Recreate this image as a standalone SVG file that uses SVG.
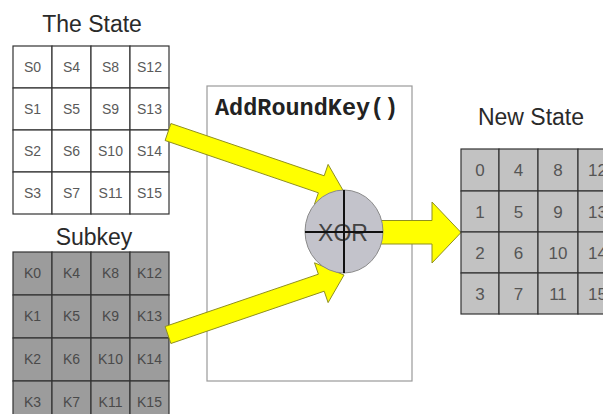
<svg xmlns="http://www.w3.org/2000/svg" width="603" height="414" viewBox="0 0 603 414">
<style>
.title{font-family:"Liberation Sans",Arial,sans-serif;font-size:23px;fill:#2a2a2a;text-anchor:middle}
.cell{stroke:#333;stroke-width:1.2}
.st{fill:#ffffff}
.sk{fill:#9c9c9c}
.ns{fill:#c2c2c2}
.ct{font-family:"Liberation Sans",Arial,sans-serif;font-size:14px;fill:#5a5a5a;text-anchor:middle}
.kt{font-family:"Liberation Sans",Arial,sans-serif;font-size:14px;fill:#4a4a4a;text-anchor:middle}
.nt{font-family:"Liberation Sans",Arial,sans-serif;font-size:17px;fill:#555;text-anchor:middle}
.arrow{fill:#ffff00;stroke:#8f8f20;stroke-width:1}
</style>
<rect width="603" height="414" fill="#ffffff"/>

<g id="state">
<text class="title" x="92" y="32">The State</text>
<g class="cell st">
<rect x="13" y="46" width="39" height="42"/><rect x="52" y="46" width="39" height="42"/><rect x="91" y="46" width="39" height="42"/><rect x="130" y="46" width="39" height="42"/>
<rect x="13" y="88" width="39" height="42"/><rect x="52" y="88" width="39" height="42"/><rect x="91" y="88" width="39" height="42"/><rect x="130" y="88" width="39" height="42"/>
<rect x="13" y="130" width="39" height="42"/><rect x="52" y="130" width="39" height="42"/><rect x="91" y="130" width="39" height="42"/><rect x="130" y="130" width="39" height="42"/>
<rect x="13" y="172" width="39" height="42"/><rect x="52" y="172" width="39" height="42"/><rect x="91" y="172" width="39" height="42"/><rect x="130" y="172" width="39" height="42"/>
</g>
<g class="ct">
<text x="32.5" y="72">S0</text><text x="71.5" y="72">S4</text><text x="110.5" y="72">S8</text><text x="149.5" y="72">S12</text>
<text x="32.5" y="114">S1</text><text x="71.5" y="114">S5</text><text x="110.5" y="114">S9</text><text x="149.5" y="114">S13</text>
<text x="32.5" y="156">S2</text><text x="71.5" y="156">S6</text><text x="110.5" y="156">S10</text><text x="149.5" y="156">S14</text>
<text x="32.5" y="198">S3</text><text x="71.5" y="198">S7</text><text x="110.5" y="198">S11</text><text x="149.5" y="198">S15</text>
</g>
</g>

<g id="subkey">
<text class="title" x="94" y="245">Subkey</text>
<g class="cell sk">
<rect x="13" y="252" width="39" height="43"/><rect x="52" y="252" width="39" height="43"/><rect x="91" y="252" width="39" height="43"/><rect x="130" y="252" width="39" height="43"/>
<rect x="13" y="295" width="39" height="43"/><rect x="52" y="295" width="39" height="43"/><rect x="91" y="295" width="39" height="43"/><rect x="130" y="295" width="39" height="43"/>
<rect x="13" y="338" width="39" height="43"/><rect x="52" y="338" width="39" height="43"/><rect x="91" y="338" width="39" height="43"/><rect x="130" y="338" width="39" height="43"/>
<rect x="13" y="381" width="39" height="43"/><rect x="52" y="381" width="39" height="43"/><rect x="91" y="381" width="39" height="43"/><rect x="130" y="381" width="39" height="43"/>
</g>
<g class="kt">
<text x="32.5" y="278">K0</text><text x="71.5" y="278">K4</text><text x="110.5" y="278">K8</text><text x="149.5" y="278">K12</text>
<text x="32.5" y="321">K1</text><text x="71.5" y="321">K5</text><text x="110.5" y="321">K9</text><text x="149.5" y="321">K13</text>
<text x="32.5" y="364">K2</text><text x="71.5" y="364">K6</text><text x="110.5" y="364">K10</text><text x="149.5" y="364">K14</text>
<text x="32.5" y="407">K3</text><text x="71.5" y="407">K7</text><text x="110.5" y="407">K11</text><text x="149.5" y="407">K15</text>
</g>
</g>

<g id="addroundkey">
<rect x="207" y="86" width="205" height="295" fill="#ffffff" stroke="#9a9a9a" stroke-width="1.2"/>
<text x="215" y="115" font-family="'Liberation Mono','Courier New',monospace" font-weight="bold" font-size="23.5" fill="#222">AddRoundKey()</text>
</g>

<g id="connectors">
<polygon class="arrow" points="170.9,123.5 324.2,175.8 328.1,164.4 344,192 314.5,204.2 318.4,192.8 165.1,140.5"/>
<polygon class="arrow" points="170.9,343.5 324.2,291.2 328.1,302.6 344,275 314.5,262.8 318.4,274.2 165.1,326.5"/>
<polygon class="arrow" points="378,220.5 432,220.5 432,202 461,232.5 432,263 432,244 378,244"/>
</g>

<g id="xor">
<ellipse cx="344" cy="231.5" rx="39" ry="41.5" fill="#c3c3cb" stroke="#8a8a8a" stroke-width="1"/>
<text x="343" y="241" font-family="'Liberation Sans',Arial,sans-serif" font-size="23" fill="#444" text-anchor="middle">XOR</text>
<line x1="344" y1="190" x2="344" y2="273" stroke="#111" stroke-width="2"/>
<line x1="305" y1="232" x2="383" y2="232" stroke="#111" stroke-width="2"/>
</g>

<g id="newstate">
<text class="title" x="531" y="125">New State</text>
<g class="cell ns">
<rect x="461" y="149" width="38" height="42"/><rect x="499" y="149" width="39" height="42"/><rect x="538" y="149" width="40" height="42"/><rect x="578" y="149" width="39" height="42"/>
<rect x="461" y="191" width="38" height="41"/><rect x="499" y="191" width="39" height="41"/><rect x="538" y="191" width="40" height="41"/><rect x="578" y="191" width="39" height="41"/>
<rect x="461" y="232" width="38" height="41"/><rect x="499" y="232" width="39" height="41"/><rect x="538" y="232" width="40" height="41"/><rect x="578" y="232" width="39" height="41"/>
<rect x="461" y="273" width="38" height="41"/><rect x="499" y="273" width="39" height="41"/><rect x="538" y="273" width="40" height="41"/><rect x="578" y="273" width="39" height="41"/>
</g>
<g class="nt">
<text x="480" y="176">0</text><text x="518.5" y="176">4</text><text x="558" y="176">8</text><text x="597.5" y="176">12</text>
<text x="480" y="217.5">1</text><text x="518.5" y="217.5">5</text><text x="558" y="217.5">9</text><text x="597.5" y="217.5">13</text>
<text x="480" y="258.5">2</text><text x="518.5" y="258.5">6</text><text x="558" y="258.5">10</text><text x="597.5" y="258.5">14</text>
<text x="480" y="299.5">3</text><text x="518.5" y="299.5">7</text><text x="558" y="299.5">11</text><text x="597.5" y="299.5">15</text>
</g>
</g>
</svg>
